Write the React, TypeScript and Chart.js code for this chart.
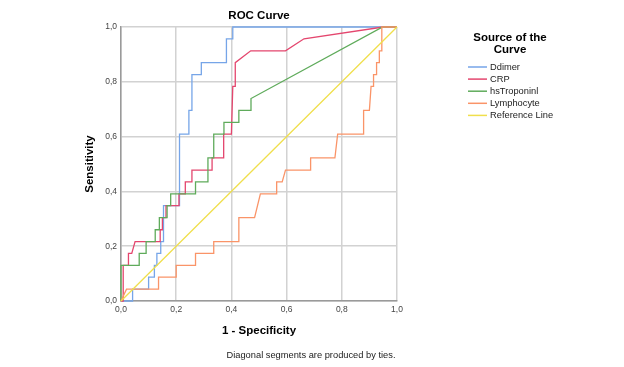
import { useEffect, useRef } from "react";
import { Chart, registerables } from "chart.js";

Chart.register(...registerables);

const chartTitle = "ROC Curve";
const xAxisTitle = "1 - Specificity";
const yAxisTitle = "Sensitivity";
const legendTitle = ["Source of the", "Curve"];
const footnote = "Diagonal segments are produced by ties.";
const tickValues = [0, 0.2, 0.4, 0.6, 0.8, 1.0];

const seriesNames = ["Ddimer", "CRP", "hsTroponinl", "Lymphocyte", "Reference Line"];
const seriesColors = ["#76a5e8", "#e4466e", "#5fab5b", "#fa9468", "#f0df4c"];

const ddimerX = [0, 0.042, 0.042, 0.1, 0.1, 0.121, 0.121, 0.13, 0.13, 0.144, 0.144, 0.154, 0.154, 0.212, 0.212, 0.246, 0.246, 0.257, 0.257, 0.291, 0.291, 0.382, 0.382, 0.405, 0.405, 1];
const ddimerY = [0, 0, 0.043, 0.043, 0.087, 0.087, 0.13, 0.13, 0.174, 0.174, 0.217, 0.217, 0.348, 0.348, 0.609, 0.609, 0.696, 0.696, 0.826, 0.826, 0.87, 0.87, 0.957, 0.957, 1, 1];

const crpX = [0, 0.008, 0.008, 0.027, 0.027, 0.039, 0.051, 0.142, 0.142, 0.15, 0.15, 0.163, 0.163, 0.21, 0.21, 0.233, 0.233, 0.257, 0.257, 0.33, 0.33, 0.372, 0.372, 0.4, 0.405, 0.414, 0.414, 0.47, 0.596, 0.663, 0.95, 1];
const crpY = [0, 0, 0.13, 0.13, 0.174, 0.174, 0.217, 0.217, 0.26, 0.26, 0.304, 0.304, 0.348, 0.348, 0.391, 0.391, 0.435, 0.435, 0.478, 0.478, 0.522, 0.522, 0.609, 0.609, 0.783, 0.783, 0.87, 0.913, 0.913, 0.957, 1, 1];

const hsTropX = [0, 0, 0.066, 0.066, 0.091, 0.091, 0.124, 0.124, 0.139, 0.139, 0.167, 0.167, 0.18, 0.18, 0.27, 0.27, 0.315, 0.315, 0.336, 0.336, 0.373, 0.373, 0.427, 0.427, 0.471, 0.471, 0.948, 1];
const hsTropY = [0, 0.13, 0.13, 0.174, 0.174, 0.217, 0.217, 0.26, 0.26, 0.304, 0.304, 0.348, 0.348, 0.391, 0.391, 0.435, 0.435, 0.522, 0.522, 0.609, 0.609, 0.652, 0.652, 0.696, 0.696, 0.739, 1, 1];

const lymphX = [0, 0.02, 0.136, 0.136, 0.2, 0.2, 0.27, 0.27, 0.336, 0.336, 0.427, 0.427, 0.484, 0.505, 0.564, 0.564, 0.584, 0.596, 0.687, 0.687, 0.775, 0.785, 0.879, 0.879, 0.9, 0.906, 0.915, 0.915, 0.926, 0.926, 0.936, 0.936, 0.945, 0.945, 1];
const lymphY = [0, 0.043, 0.043, 0.087, 0.087, 0.13, 0.13, 0.174, 0.174, 0.217, 0.217, 0.304, 0.304, 0.391, 0.391, 0.435, 0.435, 0.478, 0.478, 0.522, 0.522, 0.609, 0.609, 0.696, 0.696, 0.783, 0.783, 0.826, 0.826, 0.87, 0.87, 0.913, 0.913, 1, 1];

const refX = [0, 1];
const refY = [0, 1];

const FONT = "'Liberation Sans', Arial, sans-serif";

function zip(xs: number[], ys: number[]) {
  return xs.map((x, i) => ({ x, y: ys[i] }));
}

const textPlugin = {
  id: "rocTexts",
  afterDraw(chart: any) {
    const ctx = chart.ctx as CanvasRenderingContext2D;
    const area = chart.chartArea;
    ctx.save();
    // chart title
    ctx.fillStyle = "#000";
    ctx.font = `bold 11.5px ${FONT}`;
    ctx.textAlign = "center";
    ctx.textBaseline = "middle";
    ctx.fillText(chartTitle, (area.left + area.right) / 2, 16);
    // legend title
    ctx.font = `bold 11.5px ${FONT}`;
    ctx.fillText(legendTitle[0], 510, 38);
    ctx.fillText(legendTitle[1], 510, 50);
    // legend items
    ctx.font = `9.3px ${FONT}`;
    ctx.textAlign = "left";
    seriesNames.forEach((name, i) => {
      const y = 67 + i * 12.1;
      ctx.strokeStyle = seriesColors[i];
      ctx.lineWidth = 1.5;
      ctx.beginPath();
      ctx.moveTo(468, y);
      ctx.lineTo(487, y);
      ctx.stroke();
      ctx.fillStyle = "#222";
      ctx.fillText(name, 490, y + 0.5);
    });
    // footnote
    ctx.font = `9.3px ${FONT}`;
    ctx.textAlign = "center";
    ctx.fillStyle = "#222";
    ctx.fillText(footnote, 311, 355);
    ctx.restore();
  },
};

export default function App() {
  const ref = useRef<HTMLCanvasElement | null>(null);

  useEffect(() => {
    if (!ref.current) return;
    const pairs = [
      zip(ddimerX, ddimerY),
      zip(crpX, crpY),
      zip(hsTropX, hsTropY),
      zip(lymphX, lymphY),
      zip(refX, refY),
    ];
    const chart = new Chart(ref.current, {
      type: "line",
      data: {
        datasets: pairs.map((data, i) => ({
          label: seriesNames[i],
          data,
          borderColor: seriesColors[i],
          backgroundColor: seriesColors[i],
          borderWidth: 1.3,
          pointRadius: 0,
          tension: 0,
          fill: false,
          clip: 3,
          order: seriesNames.length - i,
        })),
      },
      options: {
        responsive: false,
        animation: false,
        devicePixelRatio: 1,
        layout: { padding: { left: 0, top: 27, right: 227, bottom: 0 } },
        plugins: {
          legend: { display: false },
          tooltip: { enabled: false },
          title: { display: false },
        },
        scales: {
          x: {
            type: "linear",
            min: 0,
            max: 1,
            afterBuildTicks: (s: any) => {
              s.ticks = tickValues.map((v) => ({ value: v }));
            },
            afterFit: (s: any) => {
              s.height = 66;
            },
            ticks: {
              padding: 4,
              color: "#444",
              font: { family: FONT, size: 8.5 },
              maxRotation: 0,
              callback: (v: any) => Number(v).toFixed(1).replace(".", ","),
            },
            grid: { color: "#d2d2d2", lineWidth: 1.5, drawTicks: false },
            border: { color: "#9a9a9a", width: 1.5 },
            title: {
              display: true,
              text: xAxisTitle,
              color: "#000",
              font: { family: FONT, size: 11.5, weight: "bold" },
              padding: { bottom: 29 },
            },
          },
          y: {
            type: "linear",
            min: 0,
            max: 1,
            afterBuildTicks: (s: any) => {
              s.ticks = tickValues.map((v) => ({ value: v }));
            },
            afterFit: (s: any) => {
              s.width = 121;
            },
            ticks: {
              padding: 4,
              color: "#444",
              font: { family: FONT, size: 8.5 },
              callback: (v: any) => Number(v).toFixed(1).replace(".", ","),
            },
            grid: { color: "#d2d2d2", lineWidth: 1.5, drawTicks: false },
            border: { color: "#9a9a9a", width: 1.5 },
            title: {
              display: true,
              text: yAxisTitle,
              color: "#000",
              font: { family: FONT, size: 11.5, weight: "bold" },
              padding: { top: 83 },
            },
          },
        },
      },
      plugins: [textPlugin],
    } as any);
    return () => chart.destroy();
  }, []);

  return (
    <div style={{ position: "fixed", left: 0, top: 0, width: 624, height: 367, background: "#fff" }}>
      <canvas ref={ref} width={624} height={367} style={{ display: "block", width: 624, height: 367 }} />
    </div>
  );
}
